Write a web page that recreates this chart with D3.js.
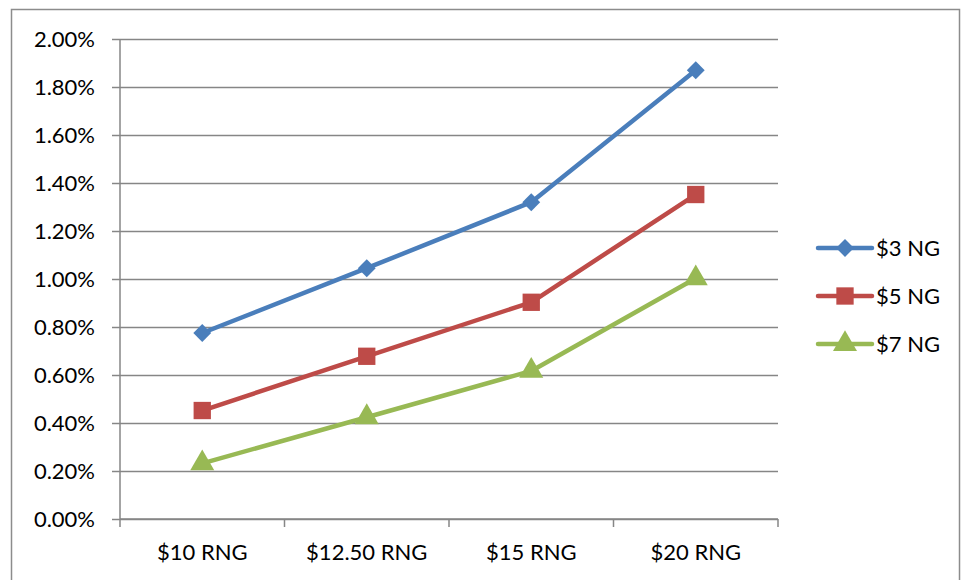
<!DOCTYPE html>
<html lang="en">
  <head>
    <meta charset="UTF-8" />
    <title>RNG vs NG</title>
    <script src="https://d3js.org/d3.v7.min.js"></script>
    <style>
      body { margin: 0; background: #fff; }
      text { font-family: Lato, "Open Sans", sans-serif; fill: #000; }
    </style>
  </head>
  <body>
    <svg width="961" height="580"></svg>
    <script>
      const categories = ["$10 RNG", "$12.50 RNG", "$15 RNG", "$20 RNG"];
      const seriesNames = ["$3 NG", "$5 NG", "$7 NG"];
      const ng3 = [0.775, 1.045, 1.32, 1.87];
      const ng5 = [0.452, 0.678, 0.903, 1.352];
      const ng7 = [0.232, 0.424, 0.617, 1.003];
      const yTicks = [0, 0.2, 0.4, 0.6, 0.8, 1.0, 1.2, 1.4, 1.6, 1.8, 2.0];

      const colors = ["#4a7ebb", "#be4b48", "#98b954"];
      const series = [ng3, ng5, ng7];
      const fontSize = 22;

      const svg = d3.select("svg");
      const margin = { top: 39, left: 120, right: 183, bottom: 61 };
      const width = 961 - margin.left - margin.right;
      const height = 580 - margin.top - margin.bottom;

      // chart frame
      svg.append("rect")
        .attr("x", 11.5).attr("y", 9.5)
        .attr("width", 948).attr("height", 600)
        .attr("fill", "none").attr("stroke", "#8c8c8c").attr("stroke-width", 1.5);

      const g = svg.append("g")
        .attr("transform", "translate(" + margin.left + "," + margin.top + ")");

      const x = d3.scaleBand().domain(categories).range([0, width]);
      const y = d3.scaleLinear().domain([0, 2]).range([height, 0]);

      // gridlines + y ticks
      g.append("g")
        .call(d3.axisLeft(y).tickValues(yTicks).tickSize(-width - 8).tickPadding(25)
          .tickFormat((d) => d.toFixed(2) + "%"))
        .call((a) => a.select(".domain").remove())
        .call((a) => a.selectAll(".tick line").attr("x1", -8).attr("x2", width)
          .attr("stroke", "#868686").attr("stroke-width", 1.5))
        .call((a) => a.selectAll("text").attr("font-size", fontSize).attr("font-family", "Lato, sans-serif"));

      // y axis line
      g.append("line")
        .attr("x1", 0).attr("x2", 0).attr("y1", 0).attr("y2", height)
        .attr("stroke", "#868686").attr("stroke-width", 1.5);

      // x axis
      const bounds = categories.map((c) => x(c)).concat([width]);
      g.append("g")
        .attr("transform", "translate(0," + height + ")")
        .call((a) => a.append("line").attr("x1", 0).attr("x2", width)
          .attr("stroke", "#868686").attr("stroke-width", 1.5))
        .call((a) => a.selectAll(".tk").data(bounds).join("line")
          .attr("x1", (d) => d).attr("x2", (d) => d).attr("y1", 0).attr("y2", 8)
          .attr("stroke", "#868686").attr("stroke-width", 1.5))
        .call((a) => a.selectAll(".lbl").data(categories).join("text")
          .attr("x", (d) => x(d) + x.bandwidth() / 2).attr("y", 41)
          .attr("text-anchor", "middle").attr("font-size", fontSize)
          .text((d) => d));

      const line = d3.line()
        .x((d, i) => x(categories[i]) + x.bandwidth() / 2)
        .y((d) => y(d));

      // markers: rotated square (diamond), square, triangle
      const marker = [
        { type: d3.symbolSquare, size: 160, rot: 45 },
        { type: d3.symbolSquare, size: 300, rot: 0 },
        { type: d3.symbolTriangle, size: 250, rot: 0 }
      ];

      series.forEach((s, k) => {
        g.append("path")
          .datum(s)
          .attr("fill", "none")
          .attr("stroke", colors[k])
          .attr("stroke-width", 4.5)
          .attr("stroke-linejoin", "round")
          .attr("d", line);
        g.selectAll(".m" + k).data(s).join("path")
          .attr("transform", (d, i) => "translate(" + (x(categories[i]) + x.bandwidth() / 2) + "," + y(d) + ") rotate(" + marker[k].rot + ")")
          .attr("d", d3.symbol().type(marker[k].type).size(marker[k].size))
          .attr("fill", colors[k]);
      });

      // legend
      const legend = svg.append("g").attr("transform", "translate(818,248)");
      seriesNames.forEach((name, k) => {
        const row = legend.append("g").attr("transform", "translate(0," + k * 48 + ")");
        row.append("line").attr("x1", 0).attr("x2", 54)
          .attr("stroke", colors[k]).attr("stroke-width", 4.5).attr("stroke-linecap", "round");
        row.append("path").attr("transform", "translate(27,0) rotate(" + marker[k].rot + ")")
          .attr("d", d3.symbol().type(marker[k].type).size(marker[k].size)).attr("fill", colors[k]);
        row.append("text").attr("x", 58).attr("y", 0).attr("dy", "0.35em")
          .attr("font-size", fontSize).text(name);
      });
    </script>
  </body>
</html>
